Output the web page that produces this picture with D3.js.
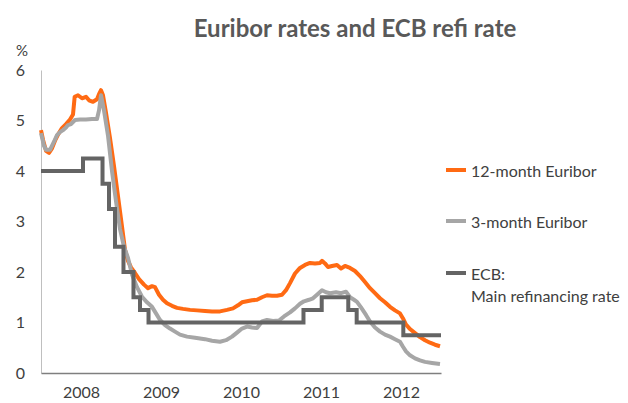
<!DOCTYPE html>
<html>
<head>
<meta charset="utf-8">
<script src="https://cdnjs.cloudflare.com/ajax/libs/d3/7.8.5/d3.min.js"></script>
<style>
  body { margin: 0; background: #fff; }
  text { font-family: Lato, "Open Sans", sans-serif; }
</style>
</head>
<body>
<div id="main"></div>
<script>
// data: [decimal year, rate %]
var euribor12m = [
  [2008.000, 4.81], [2008.025, 4.62], [2008.0625, 4.40], [2008.100, 4.36], [2008.1375, 4.45],
  [2008.175, 4.60], [2008.2125, 4.72], [2008.2625, 4.85], [2008.3125, 4.93], [2008.3625, 5.02],
  [2008.400, 5.12], [2008.421, 5.47], [2008.4625, 5.50], [2008.5125, 5.44], [2008.5625, 5.47],
  [2008.600, 5.40], [2008.650, 5.37], [2008.700, 5.42], [2008.725, 5.52], [2008.750, 5.60],
  [2008.775, 5.50], [2008.8125, 5.15], [2008.8625, 4.65], [2008.9125, 4.10], [2008.9625, 3.50],
  [2009.0125, 2.90], [2009.050, 2.44], [2009.0875, 2.22], [2009.125, 2.09], [2009.175, 1.98],
  [2009.225, 1.86], [2009.2875, 1.75], [2009.3375, 1.68], [2009.3875, 1.72], [2009.425, 1.70],
  [2009.475, 1.55], [2009.525, 1.45], [2009.575, 1.38], [2009.6375, 1.33], [2009.700, 1.29],
  [2009.775, 1.27], [2009.8625, 1.25], [2009.950, 1.24], [2010.050, 1.23], [2010.1375, 1.22],
  [2010.2375, 1.22], [2010.325, 1.25], [2010.400, 1.28], [2010.4625, 1.34], [2010.5125, 1.40],
  [2010.575, 1.42], [2010.6375, 1.44], [2010.700, 1.45], [2010.7625, 1.50], [2010.825, 1.54],
  [2010.8875, 1.53], [2010.950, 1.53], [2011.0125, 1.55], [2011.0625, 1.64], [2011.1125, 1.78],
  [2011.175, 1.97], [2011.2375, 2.08], [2011.300, 2.14], [2011.3625, 2.18], [2011.425, 2.17],
  [2011.4875, 2.18], [2011.5125, 2.22], [2011.550, 2.17], [2011.5875, 2.10], [2011.6375, 2.12],
  [2011.700, 2.14], [2011.750, 2.07], [2011.800, 2.12], [2011.8625, 2.08], [2011.925, 2.02],
  [2011.9875, 1.92], [2012.050, 1.80], [2012.1125, 1.68], [2012.175, 1.58], [2012.2375, 1.48],
  [2012.300, 1.40], [2012.3625, 1.31], [2012.425, 1.24], [2012.4875, 1.18], [2012.525, 1.08],
  [2012.5625, 0.96], [2012.6125, 0.87], [2012.675, 0.79], [2012.7375, 0.71], [2012.800, 0.65],
  [2012.8625, 0.60], [2012.925, 0.56], [2012.9875, 0.53]
];

var euribor3m = [
  [2008.000, 4.75], [2008.0375, 4.50], [2008.0625, 4.42], [2008.1125, 4.42], [2008.1625, 4.58],
  [2008.200, 4.71], [2008.2375, 4.77], [2008.275, 4.81], [2008.3125, 4.86], [2008.3375, 4.91],
  [2008.375, 4.93], [2008.425, 5.01], [2008.4875, 5.02], [2008.5625, 5.02], [2008.6375, 5.03],
  [2008.700, 5.03], [2008.725, 5.20], [2008.750, 5.50], [2008.7875, 5.20], [2008.8375, 4.70],
  [2008.8875, 4.00], [2008.9375, 3.40], [2008.9875, 2.85], [2009.0375, 2.50], [2009.0875, 2.28],
  [2009.1375, 1.95], [2009.200, 1.70], [2009.2625, 1.51], [2009.325, 1.40], [2009.3875, 1.31],
  [2009.4375, 1.18], [2009.4875, 1.05], [2009.550, 0.95], [2009.6125, 0.88], [2009.675, 0.82],
  [2009.7375, 0.76], [2009.825, 0.72], [2009.925, 0.70], [2010.050, 0.67], [2010.1375, 0.64],
  [2010.2375, 0.62], [2010.3125, 0.65], [2010.3875, 0.72], [2010.450, 0.80], [2010.5125, 0.88],
  [2010.575, 0.92], [2010.6375, 0.90], [2010.700, 0.89], [2010.7625, 1.02], [2010.825, 1.05],
  [2010.900, 1.03], [2010.975, 1.04], [2011.0375, 1.12], [2011.1125, 1.20], [2011.175, 1.28],
  [2011.2375, 1.37], [2011.2875, 1.42], [2011.350, 1.45], [2011.400, 1.48], [2011.450, 1.55],
  [2011.5125, 1.64], [2011.5625, 1.60], [2011.6125, 1.58], [2011.6875, 1.60], [2011.750, 1.58],
  [2011.8125, 1.61], [2011.8625, 1.50], [2011.9125, 1.45], [2011.950, 1.41], [2012.000, 1.30],
  [2012.0625, 1.15], [2012.1125, 1.02], [2012.175, 0.90], [2012.2375, 0.82], [2012.300, 0.76],
  [2012.3625, 0.72], [2012.425, 0.67], [2012.4875, 0.62], [2012.525, 0.52], [2012.5625, 0.43],
  [2012.6125, 0.35], [2012.675, 0.29], [2012.7375, 0.25], [2012.800, 0.22], [2012.8875, 0.20],
  [2012.9875, 0.18]
];

// ECB main refinancing rate: value holds from each date until the next
var ecbRefi = [
  [2008.000, 4.00], [2008.525, 4.25], [2008.769, 3.75], [2008.850, 3.25], [2008.925, 2.50],
  [2009.031, 2.00], [2009.156, 1.50], [2009.2375, 1.25], [2009.344, 1.00], [2011.281, 1.25],
  [2011.509, 1.50], [2011.841, 1.25], [2011.946, 1.00], [2012.529, 0.75], [2013.000, 0.75]
];

var years = [2008, 2009, 2010, 2011, 2012];
var yearLabels = ["2008", "2009", "2010", "2011", "2012"];
var yTicks = [0, 1, 2, 3, 4, 5, 6];
var seriesNames = ["12-month Euribor", "3-month Euribor", "ECB:"];

var W = 628, H = 403;
var margin = { top: 70, right: 187, bottom: 30, left: 41 },
  width = W - margin.left - margin.right,
  height = H - margin.top - margin.bottom;

var svg = d3.select("#main")
  .append("svg")
  .attr("width", W)
  .attr("height", H);

// title
svg.append("text")
  .attr("x", 355)
  .attr("y", 37)
  .attr("text-anchor", "middle")
  .style("font-size", "24px")
  .style("font-weight", "bold")
  .style("fill", "#595959")
  .text("Euribor rates and ECB refi rate");

var g = svg.append("g")
  .attr("transform", "translate(" + margin.left + "," + margin.top + ")");

var x = d3.scaleLinear()
  .domain([2008, 2013])
  .range([0, width]);

var y = d3.scaleLinear()
  .domain([0, 6])
  .range([height, 0]);

// Y axis (labels only, light line)
var yAxis = g.append("g")
  .call(d3.axisLeft(y).tickValues(yTicks).tickSize(0).tickPadding(16).tickFormat(d3.format("d")));
yAxis.select(".domain").attr("stroke", "#bfbfbf").attr("stroke-width", 1);
yAxis.selectAll("text").style("font-size", "16px").style("fill", "#404040")
  .style("font-family", "Lato, 'Open Sans', sans-serif");

svg.append("text")
  .attr("x", 22)
  .attr("y", 56)
  .attr("text-anchor", "middle")
  .style("font-size", "15px")
  .style("fill", "#404040")
  .text("%");

// X axis, year labels centred in each year
var xAxis = g.append("g")
  .attr("transform", "translate(0," + height + ")")
  .call(d3.axisBottom(x)
    .tickValues(years.map(function (d) { return d + 0.5; }))
    .tickFormat(function (d, i) { return yearLabels[i]; })
    .tickSize(0).tickPadding(14));
xAxis.select(".domain").attr("stroke", "#7f7f7f").attr("stroke-width", 1.5);
xAxis.selectAll("text").style("font-size", "16px").style("fill", "#404040")
  .style("font-family", "Lato, 'Open Sans', sans-serif");

var line = d3.line()
  .x(function (d) { return x(d[0]); })
  .y(function (d) { return y(d[1]); });

var stepLine = d3.line()
  .curve(d3.curveStepAfter)
  .x(function (d) { return x(d[0]); })
  .y(function (d) { return y(d[1]); });

var colors = ["#ff6a13", "#a6a6a6", "#646464"];

g.append("path").datum(euribor12m)
  .attr("fill", "none").attr("stroke", colors[0]).attr("stroke-width", 4)
  .attr("stroke-linejoin", "round").attr("d", line);

g.append("path").datum(euribor3m)
  .attr("fill", "none").attr("stroke", colors[1]).attr("stroke-width", 4)
  .attr("stroke-linejoin", "round").attr("d", line);

g.append("path").datum(ecbRefi)
  .attr("fill", "none").attr("stroke", colors[2]).attr("stroke-width", 4)
  .attr("d", stepLine);

// legend
var legendY = [170, 221, 273];
for (let i = 0; i < 3; i++) {
  svg.append("line")
    .attr("x1", 446).attr("x2", 466)
    .attr("y1", legendY[i]).attr("y2", legendY[i])
    .attr("stroke", colors[i]).attr("stroke-width", 4);
  svg.append("text")
    .attr("x", 471).attr("y", legendY[i])
    .attr("dominant-baseline", "central")
    .style("font-size", "16px").style("fill", "#404040")
    .text(seriesNames[i]);
}
svg.append("text")
  .attr("x", 471).attr("y", 295)
  .attr("dominant-baseline", "central")
  .style("font-size", "16px").style("fill", "#404040")
  .text("Main refinancing rate");
</script>
</body>
</html>
